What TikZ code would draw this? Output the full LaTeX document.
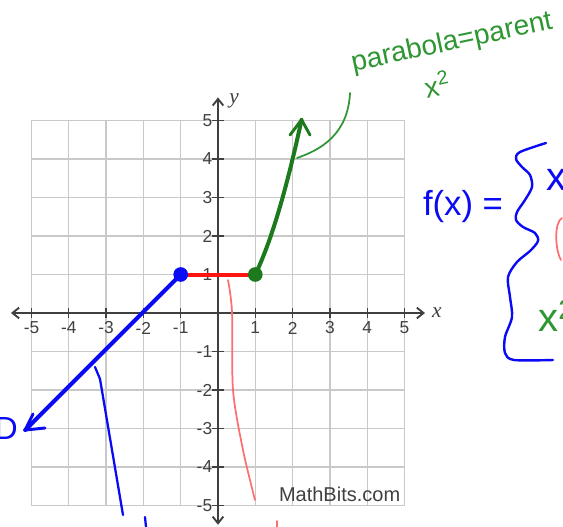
\documentclass[tikz,border=0pt]{standalone}
\usepackage{fontspec}
\setmainfont{Liberation Serif}
\setsansfont{Liberation Sans}
\usetikzlibrary{arrows.meta}
\definecolor{gridgray}{HTML}{C9C9C9}
\definecolor{axisgray}{HTML}{404040}
\definecolor{penblue}{HTML}{0A0AF5}
\definecolor{pengreen}{HTML}{2E9632}
\definecolor{curvegreen}{HTML}{1C7A1C}
\definecolor{segred}{HTML}{FF1414}
\definecolor{penpink}{HTML}{FF6E6E}
\tikzset{
  gridline/.style={gridgray, line width=1pt},
  axis/.style={axisgray, line width=1.4pt,
    {Straight Barb[length=5pt,width=8pt]}-{Straight Barb[length=5pt,width=8pt]}},
  tick/.style={axisgray, line width=1pt},
  ticklab/.style={font=\sffamily\fontsize{13}{13}\selectfont, text=axisgray, inner sep=0pt},
  axlab/.style={font=\itshape\fontsize{16}{16}\selectfont, text=axisgray, inner sep=0pt},
  piece/.style={line width=3pt, line cap=round},
  dot/.style={circle, inner sep=0pt, minimum size=11pt},
  pen/.style={line width=1.7pt, line cap=round, line join=round},
  hand/.style={font=\sffamily\fontsize{21}{21}\selectfont, inner sep=0pt},
}

\begin{document}
\begin{tikzpicture}[x=0.75pt, y=-0.75pt]
  \fill[white] (0,0) rectangle (563,527);
  \useasboundingbox (0,0) rectangle (563,527);
  \clip (0,0) rectangle (563,527);

  % the graph, in its own units
  \begin{scope}[shift={(163.5pt,-234.75pt)}, x=27.975pt, y=28.875pt]
    \foreach \i in {-5,...,5} {
      \draw[gridline] (\i,-5) -- (\i,5);
      \draw[gridline] (-5,\i) -- (5,\i);
    }
    \draw[axis] (-5.55,0) -- (5.55,0);
    \draw[axis] (0,-5.5) -- (0,5.6);
    \foreach \i in {-5,-4,-3,-2,-1,1,2,3,4,5} {
      \draw[tick] (\i,-0.13) -- (\i,0.13);
      \draw[tick] (-0.16,\i) -- (0.16,\i);
      \node[ticklab] (xl\i) at (\i,-0.39) {\i};
      \node[ticklab, anchor=east] (yl\i) at (-0.15,\i) {\i};
    }
    \node[axlab] (xname) at (5.87,0) {x};
    \node[axlab] (yname) at (0.43,5.5) {y};
    \node[font=\sffamily\fontsize{15}{15}\selectfont, text=axisgray] (mb) at (3.26,-4.72) {MathBits.com};

    \coordinate (lend) at (-1,1);
    \coordinate (rend) at (1,1);
    \coordinate (rtip) at (-5.17,-3.04);
    \coordinate (gtip) at (2.24,5.02);
    \draw[piece, segred] (lend) -- (rend);
    \draw[piece, penblue] (lend) -- (rtip);
    \draw[piece, curvegreen] plot[domain=1:2.24, samples=25, smooth] (\x,{\x*\x});
    \node[dot, fill=penblue] (ldot) at (lend) {};
    \node[dot, fill=curvegreen] (rdot) at (rend) {};
  \end{scope}

  % hand-drawn arrow heads
  \draw[pen, line width=2.2pt, penblue] (33,414) -- (rtip) -- (45,428);
  \draw[pen, line width=2.2pt, curvegreen] (290,135) -- (gtip) -- (310,135);

  % notes written over the graph
  \draw[pen, pengreen, line width=1.3pt] (350,93) .. controls (348,135) and (320,150) .. (297,158);
  \node[hand, text=pengreen, rotate=12] (note) at (452,43) {parabola=parent};
  \node[hand, text=pengreen, rotate=12] (sq) at (437,84) {x\textsuperscript{2}};

  \draw[pen, penblue] (95,367) -- (100,379) -- (123,515);
  \draw[pen, penblue] (145,517) -- (146,527);
  \node[hand, text=penblue, anchor=east, font=\sffamily\fontsize{24}{24}\selectfont] (dl) at (18,428) {D};

  \draw[pen, penpink, line width=1.3pt] plot[smooth] coordinates {(228,280) (232,312) (233,390) (243,450) (255,500)};
  \draw[pen, penpink, line width=1.3pt] (277,521) -- (277,527);

  \node[hand, text=penblue, font=\sffamily\fontsize{26}{26}\selectfont] (fx) at (463,207) {f(x) =};
  \draw[pen, penblue, line width=1.8pt] plot[smooth] coordinates {
    (546,143) (520,152) (516,159) (522,167) (530,175) (532,187) (525,200)
    (517,212) (516,220) (523,227) (535,233) (538,241) (530,251) (517,262)
    (508,277) (510,297) (512,317) (505,337) (505,353) (514,360) (553,360)};
  \node[hand, text=penblue, anchor=west, font=\sffamily\fontsize{30}{30}\selectfont] (c1) at (546,180) {x};
  \draw[pen, penpink, line width=1.3pt] (562,218) .. controls (554,222) and (555,250) .. (561,260);
  \node[hand, text=pengreen, anchor=west, font=\sffamily\fontsize{30}{30}\selectfont] (c3) at (538,316) {x\textsuperscript{2}};
\end{tikzpicture}
\end{document}
